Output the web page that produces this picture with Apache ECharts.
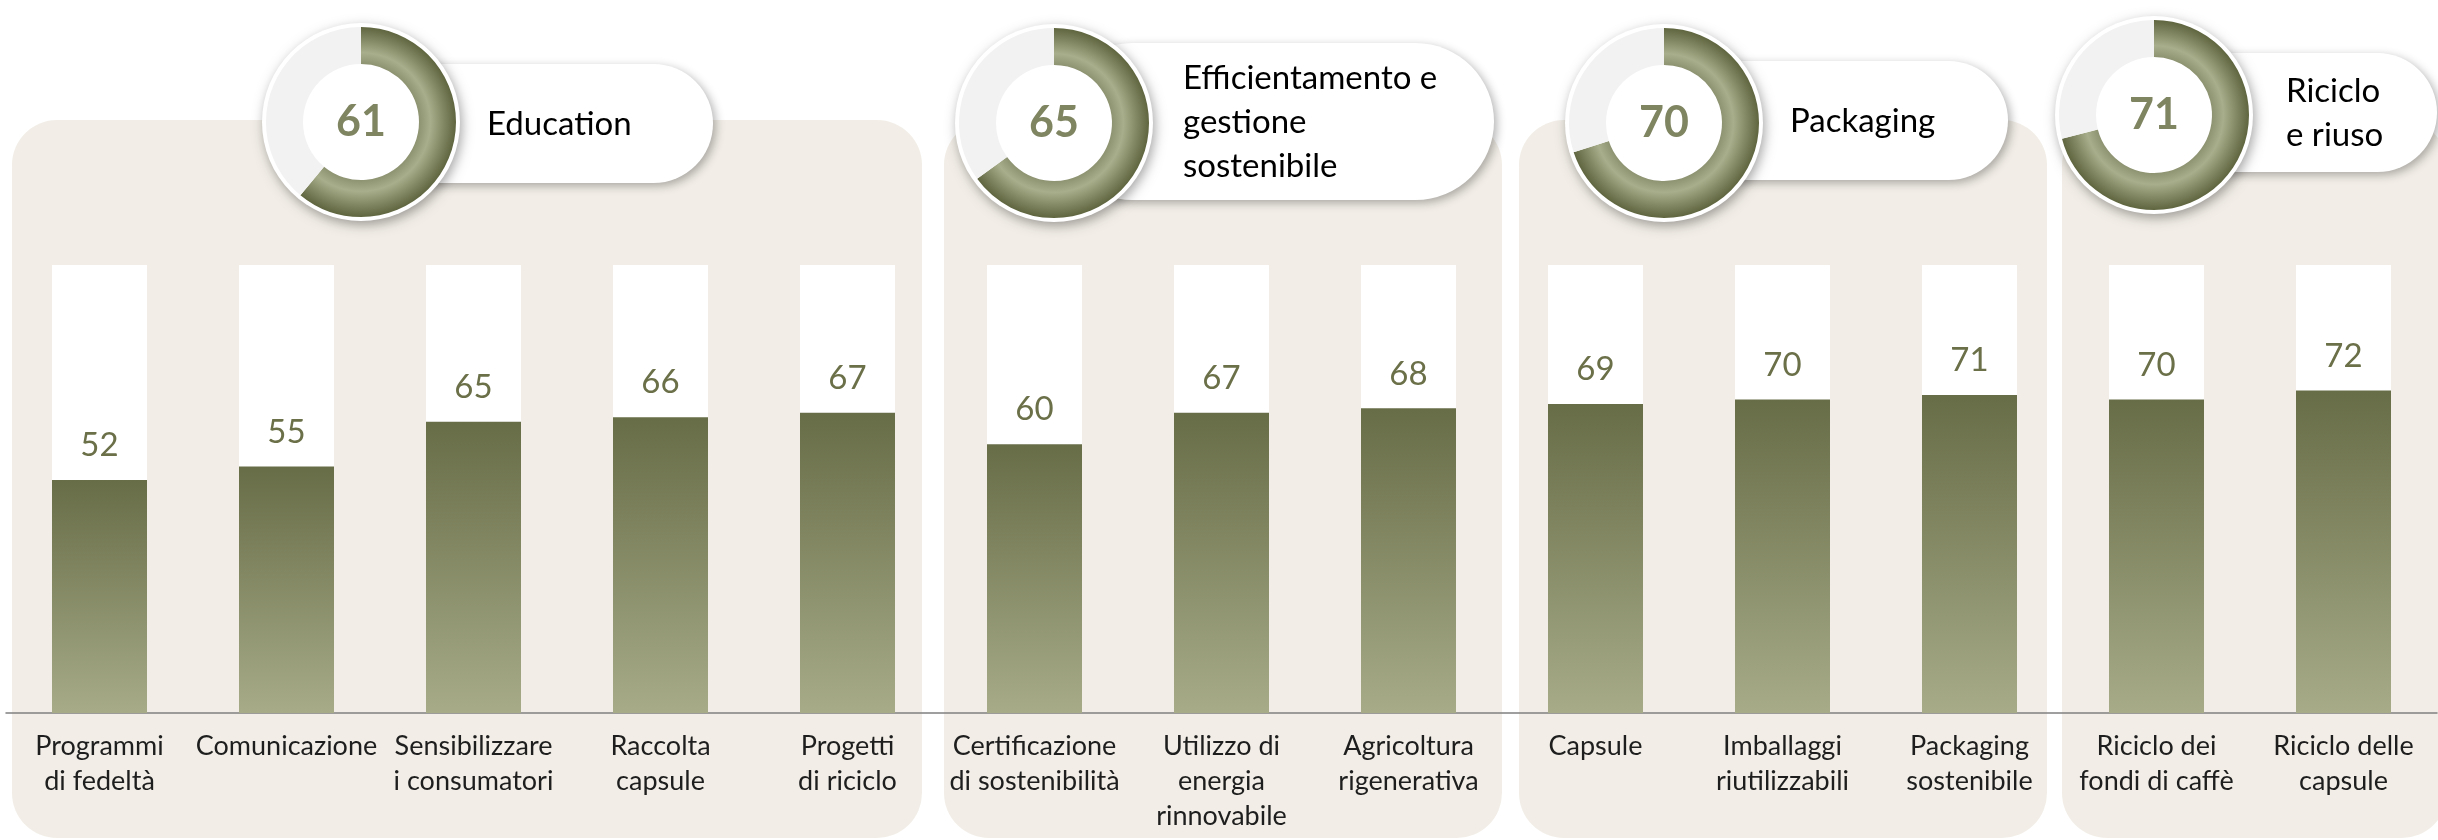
<!DOCTYPE html>
<html>
<head>
<meta charset="utf-8">
<script src="https://cdn.jsdelivr.net/npm/echarts@6/dist/echarts.min.js"></script>
<style>
  html, body { margin: 0; padding: 0; background: #ffffff; }
  #chart { width: 2438px; height: 840px; }
</style>
</head>
<body>
<div id="chart"></div>
<script>
// data
const categories = [
    "Programmi\ndi fedeltà", "Comunicazione", "Sensibilizzare\ni consumatori", "Raccolta\ncapsule", "Progetti\ndi riciclo",
    "Certificazione\ndi sostenibilità", "Utilizzo di\nenergia\nrinnovabile", "Agricoltura\nrigenerativa",
    "Capsule", "Imballaggi\nriutilizzabili", "Packaging\nsostenibile",
    "Riciclo dei\nfondi di caffè", "Riciclo delle\ncapsule"
];
const values = [52, 55, 65, 66, 67, 60, 67, 68, 69, 70, 71, 70, 72];
const groupNames = ["Education", "Efficientamento e\ngestione\nsostenibile", "Packaging", "Riciclo\ne riuso"];
const groupScores = [61, 65, 70, 71];
const groupSizes = [5, 3, 3, 2];

// layout of the headline badges and panels (pixels)
const donutX = [361, 1054, 1664, 2154];
const donutY = [122, 123, 123, 115];
const pillTop = [64, 43, 61, 53];
const pillBottom = [183, 200, 180, 172];
const pillRight = [713, 1494, 2008, 2437];
const textX = [487, 1183, 1790, 2286];
const panelInsetLeft = [6, 3, 17, -1];
const panelInsetRight = [19, 0, 16, -10];

const FONT = "Lato, 'Open Sans', sans-serif";
const OLIVE = "#6b7049";

const chart = echarts.init(document.getElementById("chart"));

function ringColor(cx, cy) {
    return {
        type: "radial", x: cx, y: cy, r: 95, global: true,
        colorStops: [
            { offset: 0, color: "#8d9270" },
            { offset: 0.61, color: "#8d9270" },
            { offset: 0.73, color: "#a8ad8b" },
            { offset: 1, color: "#5f653f" }
        ]
    };
}

const pieSeries = [];
for (let g = 0; g < groupScores.length; g++) {
    const cx = donutX[g], cy = donutY[g];
    pieSeries.push({
        type: "pie", silent: true, z: 5, center: [cx, cy], radius: [0, 99],
        label: {
            show: true, position: "center", formatter: () => String(groupScores[g]),
            fontFamily: FONT, fontSize: 43, fontWeight: "bold", color: "#7f8461"
        },
        labelLine: { show: false },
        itemStyle: {
            color: "#ffffff", shadowBlur: 12, shadowColor: "rgba(0,0,0,0.35)",
            shadowOffsetX: 2, shadowOffsetY: 4
        },
        data: [{ value: 1 }]
    });
    pieSeries.push({
        type: "pie", silent: true, z: 6, center: [cx, cy], radius: [58, 95],
        startAngle: 90, clockwise: true,
        label: { show: false }, labelLine: { show: false },
        data: [
            { value: groupScores[g], itemStyle: { color: ringColor(cx, cy) } },
            { value: 100 - groupScores[g], itemStyle: { color: "#f2f2f2" } }
        ]
    });
}

chart.setOption({
    animation: false,
    grid: { left: 6, right: 1, top: 265, bottom: 127 },
    xAxis: {
        type: "category",
        data: categories,
        axisLine: { lineStyle: { color: "#808080", width: 1.5 } },
        axisTick: { show: false },
        axisLabel: {
            interval: 0, margin: 16, fontFamily: FONT, fontSize: 27,
            lineHeight: 35, color: "#1e1e1e"
        }
    },
    yAxis: { type: "value", min: 0, max: 100, show: false },
    series: [
        {
            type: "bar",
            data: values,
            barWidth: 95,
            showBackground: true,
            backgroundStyle: { color: "#ffffff" },
            itemStyle: {
                color: new echarts.graphic.LinearGradient(0, 0, 0, 1, [
                    { offset: 0, color: "#676d47" },
                    { offset: 1, color: "#a7ab88" }
                ])
            },
            label: {
                show: true, position: "top", distance: 18,
                fontFamily: FONT, fontSize: 33, color: OLIVE
            }
        },
        ...pieSeries
    ]
});

// panels behind each group, taken from the category axis
const centers = categories.map((c) => chart.convertToPixel({ xAxisIndex: 0 }, c));
const band = centers[1] - centers[0];
const graphics = [];
let start = 0;
for (let g = 0; g < groupSizes.length; g++) {
    const end = start + groupSizes[g] - 1;
    const left = centers[start] - band / 2 + panelInsetLeft[g];
    const right = centers[end] + band / 2 - panelInsetRight[g];
    graphics.push({
        type: "rect", z: -10, silent: true,
        shape: { x: left, y: 120, width: right - left, height: 718, r: 45 },
        style: { fill: "#f2eee7" }
    });
    start = end + 1;
}

for (let g = 0; g < groupNames.length; g++) {
    graphics.push({
        type: "rect", z: 1, silent: true,
        shape: {
            x: donutX[g], y: pillTop[g], width: pillRight[g] - donutX[g],
            height: pillBottom[g] - pillTop[g], r: (pillBottom[g] - pillTop[g]) / 2
        },
        style: {
            fill: "#ffffff", shadowBlur: 10, shadowColor: "rgba(0,0,0,0.3)",
            shadowOffsetX: 3, shadowOffsetY: 3
        }
    });
    graphics.push({
        type: "text", z: 10, silent: true,
        style: {
            text: groupNames[g], x: textX[g], y: (pillTop[g] + pillBottom[g]) / 2 + 1,
            fontFamily: FONT, fontSize: 33, lineHeight: 44, fill: "#000000",
            verticalAlign: "middle", align: "left"
        }
    });
}

chart.setOption({ graphic: graphics });
</script>
</body>
</html>
